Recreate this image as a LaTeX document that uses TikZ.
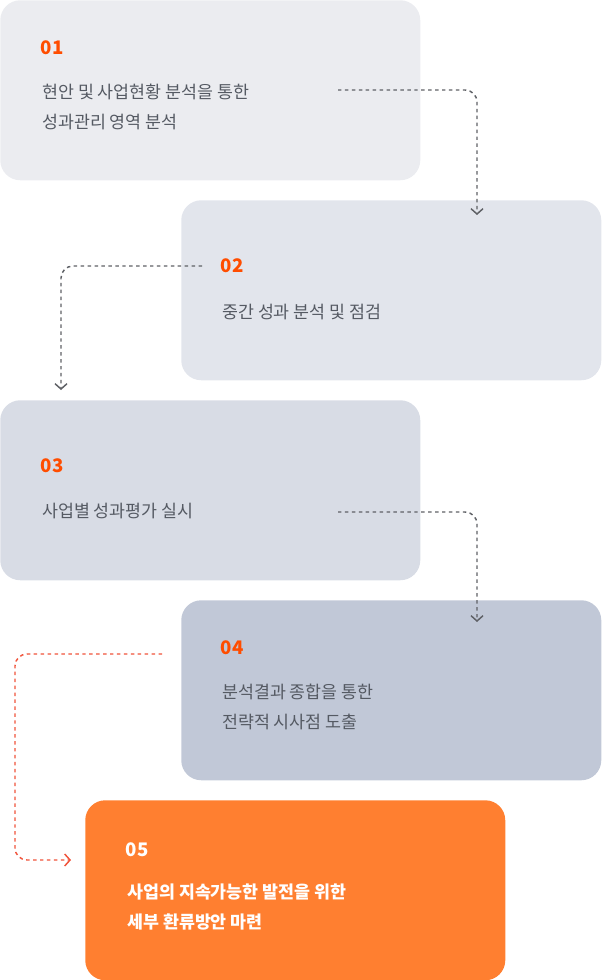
\documentclass[tikz,border=0pt]{standalone}
\usepackage{fontspec}
\setmainfont{Noto Sans CJK KR}
\usetikzlibrary{arrows.meta,positioning}
\definecolor{boxa}{HTML}{EBECF0}
\definecolor{boxb}{HTML}{E2E5EC}
\definecolor{boxc}{HTML}{D8DCE5}
\definecolor{boxd}{HTML}{C1C8D7}
\definecolor{boxe}{HTML}{FF7F30}
\definecolor{numc}{HTML}{FF4D00}
\definecolor{txtc}{HTML}{555A63}
\definecolor{linec}{HTML}{5F6166}
\definecolor{redl}{HTML}{F0533A}
\tikzset{
  >= {Straight Barb[length=4pt,width=9pt]},
  bx/.style={draw=none, fill=#1, rounded corners=15pt, minimum width=315pt, minimum height=135pt, anchor=north west, inner sep=0pt},
  num/.style={anchor=west, font=\fontsize{14pt}{14pt}\selectfont\bfseries, text=numc},
  tx/.style={anchor=north west, font=\fontsize{13pt}{22.5pt}\selectfont, text=txtc, align=left, inner sep=0pt},
  dl/.style={draw=linec, line width=1.1pt, dash pattern=on 2.6pt off 2.6pt, rounded corners=9pt, ->}
}
\begin{document}
\begin{tikzpicture}[x=0.75pt,y=-0.75pt]
\useasboundingbox (0,0) rectangle (601,980);
% boxes
\node[bx=boxa] (b1) at (0,0) {};
\node[bx=boxb] (b2) at (181,200) {};
\node[bx=boxc] (b3) at (0,400) {};
\node[bx=boxd] (b4) at (181,600) {};
\node[bx=boxe] (b5) at (85,800) {};
% labels
\node[num] (n1) at (36,48) {01};
\node[tx] (t1) at (42,84) {현안 및 사업현황 분석을 통한\\성과관리 영역 분석};
\node[num] (n2) at (216,266) {02};
\node[tx] (t2) at (222,304) {중간 성과 분석 및 점검};
\node[num] (n3) at (36,466) {03};
\node[tx] (t3) at (42,503) {사업별 성과평가 실시};
\node[num] (n4) at (216,648) {04};
\node[tx] (t4) at (222,684) {분석결과 종합을 통한\\전략적 시사점 도출};
\node[num,text=white] (n5) at (121,850) {05};
\node[tx,text=white,font=\fontsize{13pt}{22.5pt}\selectfont\bfseries] (t5) at (127,884) {사업의 지속가능한 발전을 위한\\세부 환류방안 마련};
% connectors
\coordinate (s1) at (338,90);  \coordinate (e1) at (477,215);
\coordinate (s2) at (202,266); \coordinate (e2) at (61,390);
\coordinate (s3) at (338,512); \coordinate (e3) at (477,622);
\coordinate (s4) at (162,654); \coordinate (e4) at (71,860);
\draw[dl] (s1) -| (e1);
\draw[dl] (s2) -| (e2);
\draw[dl] (s3) -| (e3);
\draw[dl,draw=redl] (s4) -| (15,860) -- (e4);
\end{tikzpicture}
\end{document}
